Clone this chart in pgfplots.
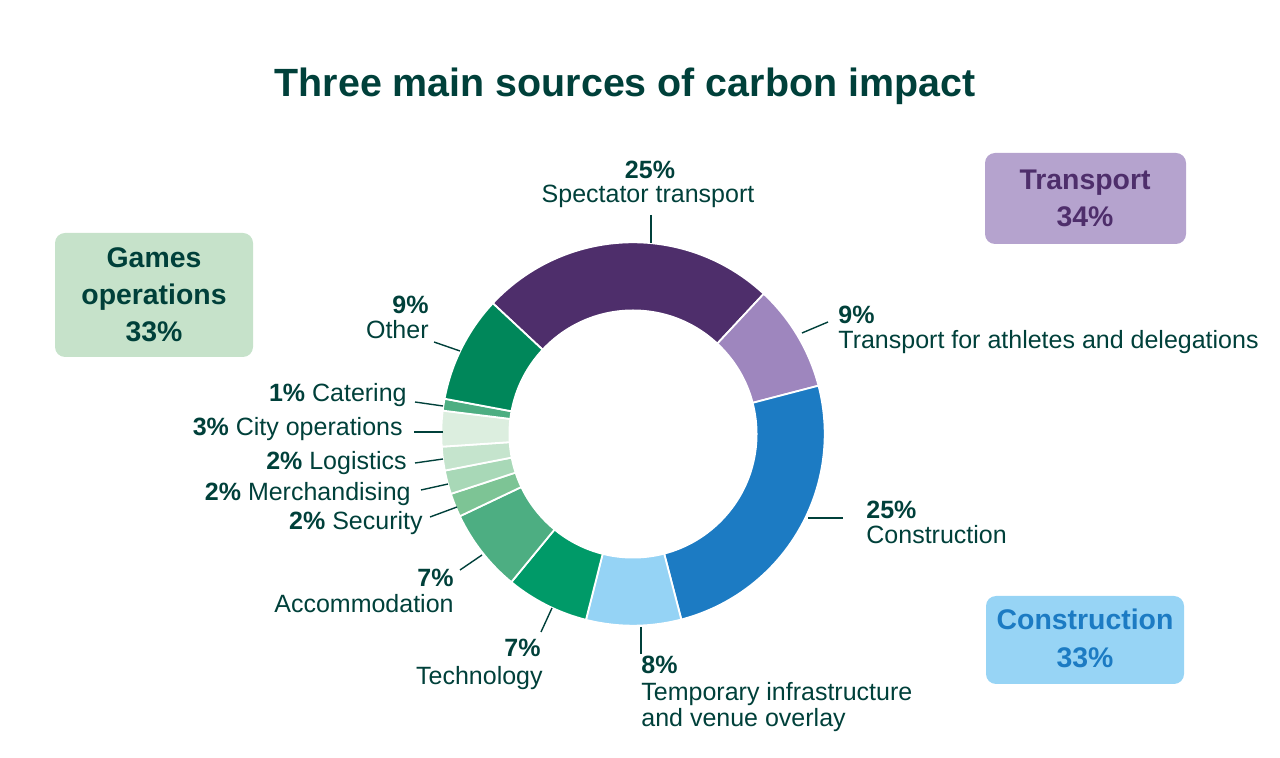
\documentclass[border=0pt]{standalone}
\usepackage{pgfplots}
\pgfplotsset{compat=1.18}
\usepackage{pgfplotstable}
\usepackage{fontspec}
\setmainfont{Liberation Sans}

\definecolor{txt}{HTML}{00403A}
\definecolor{cSpect}{HTML}{4E2E6B}
\definecolor{cAthl}{HTML}{9E86BE}
\definecolor{cCons}{HTML}{1C7BC3}
\definecolor{cTemp}{HTML}{95D3F5}
\definecolor{cTech}{HTML}{009A68}
\definecolor{cAcc}{HTML}{4DAE82}
\definecolor{cSec}{HTML}{7DC495}
\definecolor{cMerch}{HTML}{A8D8B7}
\definecolor{cLog}{HTML}{C5E4CD}
\definecolor{cCity}{HTML}{DCEEDF}
\definecolor{cCat}{HTML}{4DAE82}
\definecolor{cOther}{HTML}{00875A}
\definecolor{boxGames}{HTML}{C6E2CA}
\definecolor{boxTrans}{HTML}{B5A3CE}
\definecolor{boxCons}{HTML}{97D4F5}

% share of carbon impact, clockwise from the top left
\pgfplotstableread[col sep=comma]{
value,color
25,cSpect
9,cAthl
25,cCons
8,cTemp
7,cTech
7,cAcc
2,cSec
2,cMerch
2,cLog
3,cCity
1,cCat
9,cOther
}\segments

\newcommand{\lab}{\fontsize{12.5}{14}\selectfont}
\newcommand{\boxfont}{\fontsize{14.2}{16}\selectfont\bfseries}

\begin{document}
\begin{tikzpicture}
\begin{axis}[
  width=640pt, height=379pt,
  scale only axis,
  xmin=0, xmax=1280, ymin=0, ymax=758,
  y dir=reverse,
  axis lines=none,
  clip=false,
]
\coordinate (bl) at (axis cs:0,758);
\coordinate (tr) at (axis cs:1280,0);

% donut
\pgfplotstablegetrowsof{\segments}
\pgfmathtruncatemacro\nrows{\pgfplotsretval-1}
\def\startang{137}
\pgfplotsforeachungrouped \i in {0,...,\nrows}{
  \pgfplotstablegetelem{\i}{value}\of\segments \let\val\pgfplotsretval
  \pgfplotstablegetelem{\i}{color}\of\segments \let\col\pgfplotsretval
  \pgfmathsetmacro\endang{\startang-3.6*\val}
  \edef\temp{\noexpand\filldraw[fill=\col, draw=white, line width=0.9pt, line join=round]
    (axis cs:633,434) -- ++(\startang:95.85pt)
    arc[start angle=\startang, end angle=\endang, radius=95.85pt] -- cycle;}
  \temp
  \global\let\startang\endang
}
\fill[white] (axis cs:633,434) circle[radius=62.25pt];

% title
\node[anchor=base, text=txt, font=\fontsize{19.7}{22}\selectfont\bfseries]
  at (axis cs:625,97) {Three main sources of carbon impact};

% leader lines
\begin{scope}[txt, line width=0.7pt]
\draw (axis cs:651,215) -- (axis cs:651,243);
\draw (axis cs:802,333) -- (axis cs:828,322);
\draw (axis cs:808,518) -- (axis cs:843,518);
\draw (axis cs:641,627) -- (axis cs:641,654);
\draw (axis cs:552,608) -- (axis cs:541,632);
\draw (axis cs:482,555) -- (axis cs:460,570);
\draw (axis cs:457,507) -- (axis cs:430,517);
\draw (axis cs:448,484) -- (axis cs:421,490);
\draw (axis cs:443,459) -- (axis cs:415,463);
\draw (axis cs:443,432) -- (axis cs:414,432);
\draw (axis cs:443,406) -- (axis cs:415,402);
\draw (axis cs:460,351) -- (axis cs:434,342);
\end{scope}

% labels
\begin{scope}[every node/.style={text=txt, font=\lab, inner sep=0pt}]
\node[anchor=base] at (axis cs:650,179) {\bfseries 25\%};
\node[anchor=base] at (axis cs:648,203) {Spectator transport};
\node[anchor=base west] at (axis cs:838,324) {\bfseries 9\%};
\node[anchor=base west] at (axis cs:838,349) {Transport for athletes and delegations};
\node[anchor=base west] at (axis cs:866,519) {\bfseries 25\%};
\node[anchor=base west] at (axis cs:866,544) {Construction};
\node[anchor=base west] at (axis cs:641,674) {\bfseries 8\%};
\node[anchor=base west] at (axis cs:641,701) {Temporary infrastructure};
\node[anchor=base west] at (axis cs:641,726) {and venue overlay};
\node[anchor=base east] at (axis cs:541,657) {\bfseries 7\%};
\node[anchor=base east] at (axis cs:543,684) {Technology};
\node[anchor=base east] at (axis cs:454,587) {\bfseries 7\%};
\node[anchor=base east] at (axis cs:454,613) {Accommodation};
\node[anchor=base east] at (axis cs:423,530) {\textbf{2\%} Security};
\node[anchor=base east] at (axis cs:411,501) {\textbf{2\%} Merchandising};
\node[anchor=base east] at (axis cs:407,470) {\textbf{2\%} Logistics};
\node[anchor=base east] at (axis cs:403,436) {\textbf{3\%} City operations};
\node[anchor=base east] at (axis cs:407,402) {\textbf{1\%} Catering};
\node[anchor=base east] at (axis cs:429,314) {\bfseries 9\%};
\node[anchor=base east] at (axis cs:429,339) {Other};
\end{scope}

% group boxes
\fill[boxGames, rounded corners=5pt] (axis cs:55,233) rectangle (axis cs:253,357);
\fill[boxTrans, rounded corners=5pt] (axis cs:985,153) rectangle (axis cs:1186,244);
\fill[boxCons, rounded corners=5pt] (axis cs:986,596) rectangle (axis cs:1184,684);
\begin{scope}[every node/.style={font=\boxfont, inner sep=0pt, anchor=base}]
\node[text=txt] at (axis cs:154,268) {Games};
\node[text=txt] at (axis cs:154,305) {operations};
\node[text=txt] at (axis cs:154,342) {33\%};
\node[text=cSpect] at (axis cs:1085,190) {Transport};
\node[text=cSpect] at (axis cs:1085,227) {34\%};
\node[text=cCons] at (axis cs:1085,630) {Construction};
\node[text=cCons] at (axis cs:1085,668) {33\%};
\end{scope}
\end{axis}
\pgfresetboundingbox
\path[use as bounding box] (bl) rectangle (tr);
\end{tikzpicture}
\end{document}
